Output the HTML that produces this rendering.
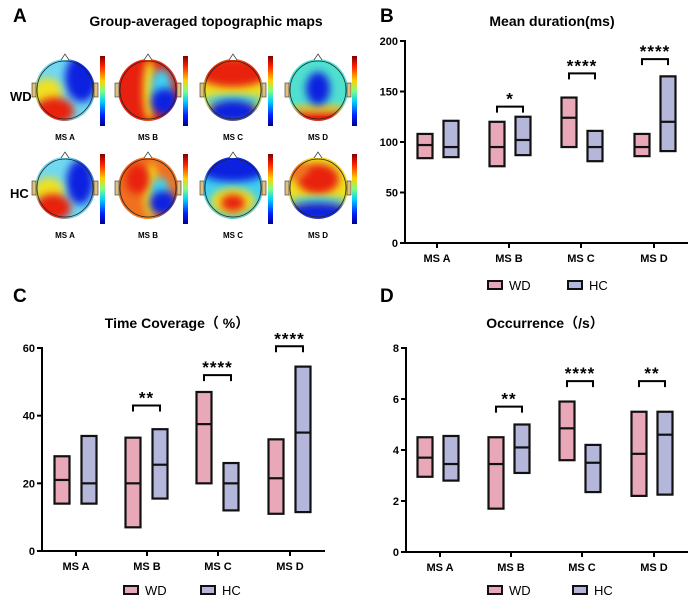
<!DOCTYPE html>
<html><head><meta charset="utf-8"><style>
html,body{margin:0;padding:0;background:#fff;width:688px;height:598px;overflow:hidden}
svg{display:block}
text{font-family:"Liberation Sans","Noto Sans CJK SC",sans-serif}
</style></head><body>
<svg id="s" width="688" height="598" xmlns="http://www.w3.org/2000/svg">
<defs>
<filter id="bl" x="-50%" y="-50%" width="200%" height="200%"><feGaussianBlur stdDeviation="4"/></filter>
<linearGradient id="cb" x1="0" y1="0" x2="0" y2="1">
<stop offset="0" stop-color="#800000"/><stop offset="0.15" stop-color="#ff2000"/><stop offset="0.35" stop-color="#ffd000"/><stop offset="0.5" stop-color="#80ff80"/><stop offset="0.65" stop-color="#00d0ff"/><stop offset="0.85" stop-color="#0020ff"/><stop offset="1" stop-color="#000090"/>
</linearGradient>
</defs>
<text x="13" y="22" font-size="19" font-weight="bold">A</text>
<text x="206" y="26" font-size="14" font-weight="bold" text-anchor="middle">Group-averaged topographic maps</text>
<text x="380" y="22" font-size="19" font-weight="bold">B</text>
<text x="552" y="26" font-size="14" font-weight="bold" text-anchor="middle">Mean duration(ms)</text>
<text x="13" y="302" font-size="19" font-weight="bold">C</text>
<text x="177" y="328" font-size="14" font-weight="bold" text-anchor="middle">Time Coverage（ %）</text>
<text x="380" y="302" font-size="19" font-weight="bold">D</text>
<text x="545" y="328" font-size="14" font-weight="bold" text-anchor="middle">Occurrence（/s）</text>
<text x="10" y="101" font-size="13" font-weight="bold">WD</text>
<text x="10" y="198" font-size="13" font-weight="bold">HC</text>
<g id="maps"></g><g id="charts"></g>
</svg>
<script>
var NS="http://www.w3.org/2000/svg";
function el(p,t,a,txt){var e=document.createElementNS(NS,t);for(var k in a)e.setAttribute(k,a[k]);if(txt!==undefined)e.textContent=txt;p.appendChild(e);return e;}
var M=document.getElementById('maps'),C=document.getElementById('charts'),defs=document.querySelector('defs');
var R='#e82010',B='#1020e0',Y='#f0e020',Cy='#40d0f0',O='#f07020';
var maps=[
['#70d8f0',[[0.55,-0.4,0.55,0.8,B],[-0.6,0.1,0.5,0.5,Y],[-0.35,0.7,0.65,0.45,R]]],
[R,[[0.05,0,0.22,1,Y],[0.45,-0.1,0.35,0.6,Cy],[0.55,0.4,0.45,0.45,B]]],
[Y,[[0,-0.6,1.2,0.5,R],[0,0.35,1,0.18,Cy],[0,0.72,0.8,0.38,B]]],
['#50e0d0',[[0,0.9,1.1,0.3,R],[0,0.62,1,0.12,Y],[0,-0.05,0.4,0.55,B]]],
['#70d8f0',[[0.5,-0.2,0.45,0.75,B],[-0.55,0.1,0.5,0.45,Y],[-0.4,0.65,0.6,0.45,R]]],
[O,[[0.1,0.1,0.25,0.9,Y],[0.4,0.05,0.3,0.4,Cy],[0.5,0.5,0.45,0.4,B],[-0.35,-0.3,0.4,0.5,R]]],
[Cy,[[0,-0.7,1.2,0.5,B],[0,0.45,0.75,0.45,Y],[0,0.5,0.4,0.28,R]]],
[Y,[[0,-0.3,0.7,0.5,R],[0,0.45,1,0.15,Cy],[0,0.82,1.1,0.33,B],[-0.8,-0.6,0.5,0.3,O]]]];
var cols=[65,148,233,318],rows=[90,188],cbx=[100,183,268,352],names=['MS A','MS B','MS C','MS D'];
maps.forEach(function(m,i){var cx=cols[i%4],cy=rows[i>>2],r=30;
 var cp=el(defs,'clipPath',{id:'c'+i});el(cp,'ellipse',{cx:cx,cy:cy,rx:r,ry:31});
 var g=el(M,'g',{'clip-path':'url(#c'+i+')'});
 el(g,'rect',{x:cx-r,y:cy-32,width:2*r,height:64,fill:m[0]});
 m[1].forEach(function(b){el(g,'ellipse',{cx:cx+b[0]*r,cy:cy+b[1]*r,rx:b[2]*r,ry:b[3]*r,fill:b[4],filter:'url(#bl)'});});
 el(M,'rect',{x:cx-r-3,y:cy-7,width:4,height:14,fill:'#e0c080',stroke:'#333','stroke-width':0.6});
 el(M,'rect',{x:cx+r-1,y:cy-7,width:4,height:14,fill:'#e0c080',stroke:'#333','stroke-width':0.6});
 el(M,'path',{d:'M'+(cx-4)+','+(cy-30)+' L'+cx+','+(cy-36)+' L'+(cx+4)+','+(cy-30),fill:'#fff',stroke:'#333','stroke-width':0.7});
 el(M,'ellipse',{cx:cx,cy:cy,rx:r-2,ry:29,fill:'none',stroke:'#222','stroke-width':0.8});
 el(M,'rect',{x:cbx[i%4],y:cy-34,width:5,height:70,fill:'url(#cb)'});
 el(M,'text',{x:cx,y:cy+50,'font-size':8,'font-weight':'bold','text-anchor':'middle'},names[i%4]);
});
var PK='#e8a8b8',LV='#b4b6da';
var charts=[
{x0:405,y0:243,yt:41,max:200,ticks:[0,50,100,150,200],xe:688,gc:[437,509,581,654],ow:-12,oh:14,legY:285,lw:488,lh:568,
 d:[[84,108,97,85,121,95],[76,120,95,87,125,102],[95,144,124,81,111,95],[86,108,95,91,165,120]],
 s:[null,[135,'*'],[168,'****'],[182,'****']]},
{x0:42,y0:551,yt:348,max:60,ticks:[0,20,40,60],xe:325,gc:[76,147,218,290],ow:-14,oh:13,legY:590,lw:124,lh:201,
 d:[[14,28,21,14,34,20],[7,33.5,20,15.5,36,25.5],[20,47,37.5,12,26,20],[11,33,21.5,11.5,54.5,35]],
 s:[null,[43,'**'],[52,'****'],[60.5,'****']]},
{x0:406,y0:552,yt:348,max:8,ticks:[0,2,4,6,8],xe:688,gc:[440,511,582,654],ow:-15,oh:11,legY:590,lw:488,lh:573,
 d:[[2.95,4.5,3.7,2.8,4.55,3.45],[1.7,4.5,3.45,3.1,5.0,4.1],[3.6,5.9,4.85,2.35,4.2,3.5],[2.2,5.5,3.85,2.25,5.5,4.6]],
 s:[null,[5.7,'**'],[6.7,'****'],[6.7,'**']]}];
charts.forEach(function(c){
 function Y(v){return c.y0-(c.y0-c.yt)*v/c.max;}
 el(C,'line',{x1:c.x0,y1:c.yt-1,x2:c.x0,y2:c.y0+1,stroke:'#000','stroke-width':2});
 el(C,'line',{x1:c.x0-1,y1:c.y0,x2:c.xe,y2:c.y0,stroke:'#000','stroke-width':2});
 c.ticks.forEach(function(t){var y=Y(t);el(C,'line',{x1:c.x0-5,y1:y,x2:c.x0,y2:y,stroke:'#000','stroke-width':2});
  el(C,'text',{x:c.x0-7,y:y+4,'font-size':11,'font-weight':'bold','text-anchor':'end'},t);});
 c.gc.forEach(function(g,i){
  el(C,'line',{x1:g,y1:c.y0,x2:g,y2:c.y0+5,stroke:'#000','stroke-width':2});
  el(C,'text',{x:g,y:c.y0+19,'font-size':11,'font-weight':'bold','text-anchor':'middle'},names[i]);
  var d=c.d[i];
  [[g+c.ow,d[0],d[1],d[2],PK],[g+c.oh,d[3],d[4],d[5],LV]].forEach(function(b){
   el(C,'rect',{x:b[0]-7.5,y:Y(b[2]),width:15,height:Y(b[1])-Y(b[2]),fill:b[4],stroke:'#111','stroke-width':2.2});
   el(C,'line',{x1:b[0]-7.5,y1:Y(b[3]),x2:b[0]+7.5,y2:Y(b[3]),stroke:'#111','stroke-width':2.2});});
  var s=c.s[i];if(s){var y=Y(s[0]),a=g+c.ow,b=g+c.oh;
   el(C,'path',{d:'M'+a+','+(y+6)+' V'+y+' H'+b+' V'+(y+6),fill:'none',stroke:'#000','stroke-width':2});
   el(C,'text',{x:(a+b)/2,y:y-2,'font-size':17,'font-weight':'bold','text-anchor':'middle','letter-spacing':'1'},s[1]);}
 });
 [[c.lw,PK,'WD'],[c.lh,LV,'HC']].forEach(function(l){
  el(C,'rect',{x:l[0],y:c.legY-4,width:14,height:8,fill:l[1],stroke:'#111','stroke-width':2});
  el(C,'text',{x:l[0]+21,y:c.legY+5,'font-size':13},l[2]);});
});
</script>
</body></html>
